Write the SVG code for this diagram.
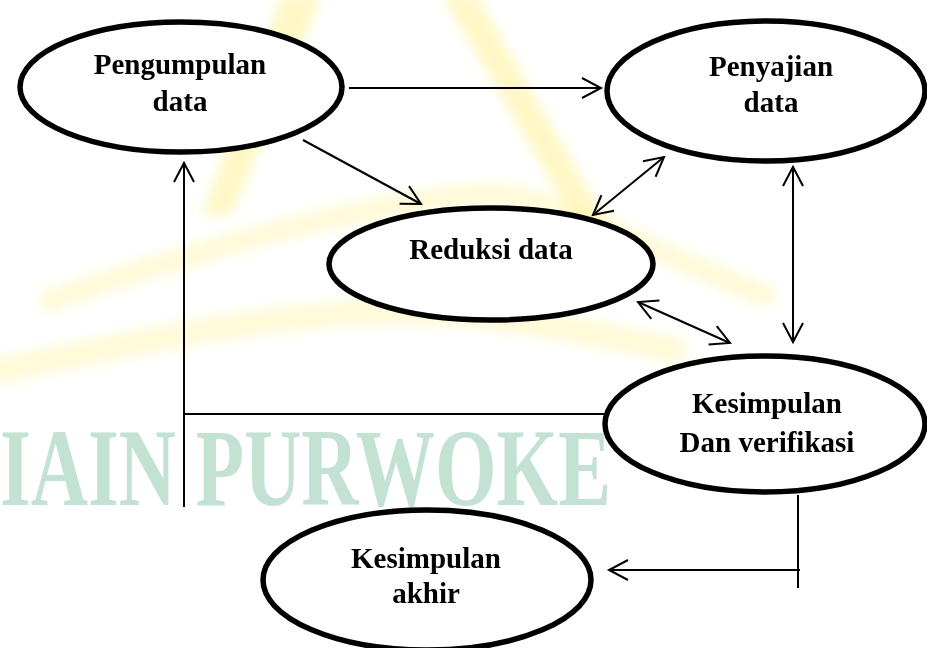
<svg xmlns="http://www.w3.org/2000/svg" width="927" height="648" viewBox="0 0 927 648">
<style>
.node ellipse{fill:#fff;stroke:#000;stroke-width:5.5}
.node text{font-family:"Liberation Serif","Times New Roman",serif;font-weight:bold;font-size:29px;fill:#000;text-anchor:middle}
.conn line,.conn polyline{stroke:#000;stroke-width:2;fill:none}
.wm-y{fill:none;stroke-linecap:round}
</style>
<defs>
<marker id="ah" markerUnits="userSpaceOnUse" markerWidth="26" markerHeight="26" viewBox="-22 -13 26 26" refX="0" refY="0" orient="auto-start-reverse">
<path d="M-19,-10 L0,0 L-19,10" fill="none" stroke="#000" stroke-width="2"/>
</marker>
<filter id="soft" x="-20%" y="-20%" width="140%" height="140%"><feGaussianBlur stdDeviation="6"/></filter>
</defs>
<g id="watermark">
<g filter="url(#soft)">
<polygon points="282,-5 322,-5 232,215 202,215" fill="#FFE95C" opacity="0.35"/>
<polygon points="442,-5 476,-5 615,235 585,240" fill="#FFE95C" opacity="0.35"/>
<path class="wm-y" d="M50,300 C180,258 330,208 480,194 C560,192 640,250 765,295" stroke="#FFF3A8" stroke-width="22" opacity="0.45"/>
<path class="wm-y" d="M-10,372 C120,347 280,308 420,312 C520,316 600,335 675,350" stroke="#FFF3A8" stroke-width="26" opacity="0.45"/>
</g>
<text transform="translate(0,505) scale(0.72,1)" x="0" y="0" font-family="'Liberation Serif',serif" font-weight="bold" font-size="110" fill="#C3E2D4">IAIN PURWOKE</text>
</g>
<g id="connectors" class="conn">
<line x1="349" y1="88" x2="601" y2="88" marker-end="url(#ah)"/>
<line x1="303" y1="140" x2="421" y2="204" marker-end="url(#ah)"/>
<line x1="593" y1="215" x2="664" y2="157" marker-start="url(#ah)" marker-end="url(#ah)"/>
<line x1="793" y1="167" x2="793" y2="342" marker-start="url(#ah)" marker-end="url(#ah)"/>
<line x1="638" y1="302" x2="730" y2="343" marker-start="url(#ah)" marker-end="url(#ah)"/>
<line x1="184" y1="507" x2="184" y2="163" marker-end="url(#ah)"/>
<line x1="184" y1="414" x2="606" y2="414"/>
<line x1="798" y1="495" x2="798" y2="588"/>
<line x1="800" y1="570" x2="609" y2="570" marker-end="url(#ah)"/>
</g>
<g id="pengumpulan" class="node">
<ellipse cx="181" cy="87" rx="161" ry="65"/>
<text x="180" y="74">Pengumpulan</text>
<text x="180" y="111">data</text>
</g>
<g id="penyajian" class="node">
<ellipse cx="766" cy="91" rx="159" ry="70"/>
<text x="771" y="76">Penyajian</text>
<text x="771" y="112">data</text>
</g>
<g id="reduksi" class="node">
<ellipse cx="491" cy="264" rx="162" ry="56"/>
<text x="491" y="259">Reduksi data</text>
</g>
<g id="kesimpulan-verifikasi" class="node">
<ellipse cx="765" cy="424" rx="160" ry="68"/>
<text x="767" y="413">Kesimpulan</text>
<text x="767" y="452">Dan verifikasi</text>
</g>
<g id="kesimpulan-akhir" class="node">
<ellipse cx="427" cy="580" rx="164" ry="70"/>
<text x="426" y="568">Kesimpulan</text>
<text x="426" y="603">akhir</text>
</g>
</svg>
